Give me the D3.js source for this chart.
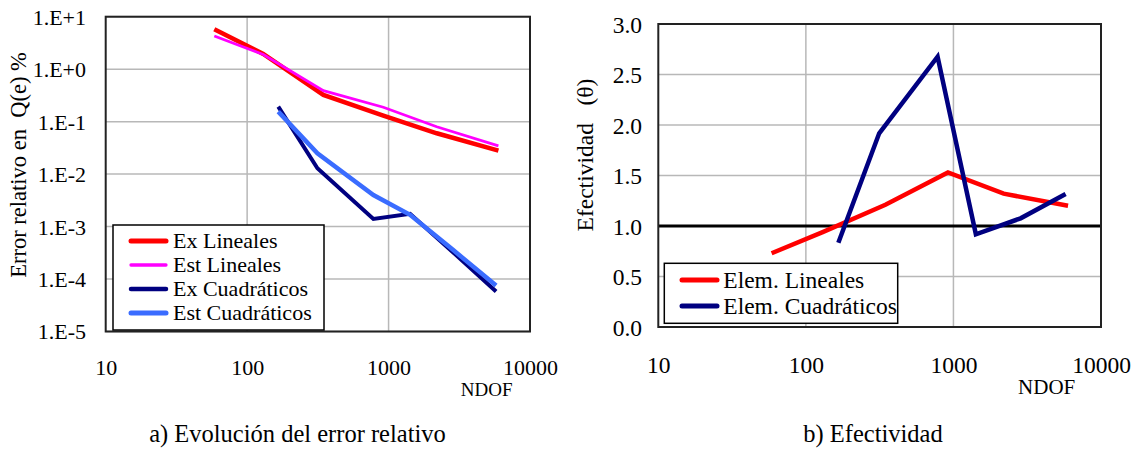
<!DOCTYPE html>
<html>
<head>
<meta charset="utf-8">
<script src="https://cdn.jsdelivr.net/npm/d3@7"></script>
<style>
  html, body { margin: 0; padding: 0; background: #fff; }
  svg { display: block; }
</style>
</head>
<body>
<svg id="chart" width="1139" height="451"></svg>
<script>
// ---------- data ----------
const xTickValues = [10, 100, 1000, 10000];
const xTickLabels = ["10", "100", "1000", "10000"];

const errTickValues = [10, 1, 0.1, 0.01, 0.001, 0.0001, 0.00001];
const errTickLabels = ["1.E+1", "1.E+0", "1.E-1", "1.E-2", "1.E-3", "1.E-4", "1.E-5"];

const effTickValues = [0, 0.5, 1, 1.5, 2, 2.5, 3];
const effTickLabels = ["0.0", "0.5", "1.0", "1.5", "2.0", "2.5", "3.0"];

const ndofLin  = [58.6, 130, 346, 918, 2190, 5980];
const ndofQuad = [166, 314, 781, 1419, 2852, 5757];

const exLineales  = [5.75, 1.95, 0.323, 0.13, 0.060, 0.028];
const estLineales = [4.28, 1.90, 0.39, 0.188, 0.080, 0.0345];
const exCuadraticos  = [0.193, 0.0129, 0.0014, 0.00175, 0.000325, 0.000058];
const estCuadraticos = [0.155, 0.025, 0.004, 0.00167, 0.00036, 0.000075];

const efLineales    = [0.73, 0.94, 1.21, 1.53, 1.32, 1.20];
const efCuadraticos = [0.835, 1.918, 2.676, 0.918, 1.076, 1.317];

const leftSeries = [
  { name: "Ex Lineales",     x: ndofLin,  y: exLineales,     color: "#ff0000", w: 4.5 },
  { name: "Est Lineales",    x: ndofLin,  y: estLineales,    color: "#ff00ff", w: 2.8 },
  { name: "Ex Cuadráticos",  x: ndofQuad, y: exCuadraticos,  color: "#000080", w: 4 },
  { name: "Est Cuadráticos", x: ndofQuad, y: estCuadraticos, color: "#3a6cff", w: 4.5 }
];
const rightSeries = [
  { name: "Elem. Lineales",    x: ndofLin,  y: efLineales,    color: "#ff0000", w: 4.5 },
  { name: "Elem. Cuadráticos", x: ndofQuad, y: efCuadraticos, color: "#000080", w: 4.5 }
];

// ---------- drawing ----------
const FONT = '"Liberation Serif", "Times New Roman", serif';
const svg = d3.select("#chart");
const gridColor = "#b8b8b8";
const frameColor = "#222";

function drawPanel(cfg) {
  const g = svg.append("g");
  const x = d3.scaleLog().domain([10, 10000]).range([cfg.left, cfg.right]);
  const y = cfg.yScale;

  // grid
  g.selectAll(".hg").data(cfg.yTicks).enter().append("line")
    .attr("x1", cfg.left).attr("x2", cfg.right)
    .attr("y1", d => y(d)).attr("y2", d => y(d))
    .attr("stroke", gridColor).attr("stroke-width", 1.5);
  g.selectAll(".vg").data([100, 1000]).enter().append("line")
    .attr("x1", d => x(d)).attr("x2", d => x(d))
    .attr("y1", cfg.top).attr("y2", cfg.bottom)
    .attr("stroke", gridColor).attr("stroke-width", 1.5);

  if (cfg.refLine !== undefined) {
    g.append("line")
      .attr("x1", cfg.left).attr("x2", cfg.right)
      .attr("y1", y(cfg.refLine)).attr("y2", y(cfg.refLine))
      .attr("stroke", "#000").attr("stroke-width", 3);
  }

  // frame
  g.append("rect")
    .attr("x", cfg.left).attr("y", cfg.top)
    .attr("width", cfg.right - cfg.left).attr("height", cfg.bottom - cfg.top)
    .attr("fill", "none").attr("stroke", frameColor).attr("stroke-width", 2);

  // y axis labels
  const yAxis = d3.axisLeft(y).tickValues(cfg.yTicks)
    .tickFormat((d, i) => cfg.yLabels[i]).tickSize(0).tickPadding(0);
  const ya = g.append("g").attr("transform", `translate(${cfg.yLabelX},0)`).call(yAxis);
  ya.select(".domain").remove();
  ya.selectAll("text").style("font-family", FONT)
    .style("font-size", cfg.tickFont + "px").attr("fill", "#000").attr("dy", "0.34em");

  // x axis labels
  const xAxis = d3.axisBottom(x).tickValues(xTickValues)
    .tickFormat((d, i) => xTickLabels[i]).tickSize(0).tickPadding(0);
  const xa = g.append("g").attr("transform", `translate(0,${cfg.xLabelY})`).call(xAxis);
  xa.select(".domain").remove();
  xa.selectAll("text").style("font-family", FONT)
    .style("font-size", cfg.tickFont + "px").attr("fill", "#000").attr("dy", "0.34em");

  // NDOF
  g.append("text").attr("x", cfg.ndofX).attr("y", cfg.ndofY)
    .attr("text-anchor", "middle").attr("dy", "0.34em")
    .style("font-family", FONT).style("font-size", cfg.ndofFont + "px").text("NDOF");

  // y title
  g.append("text")
    .attr("transform", `translate(${cfg.titleX},${cfg.titleY}) rotate(-90)`)
    .attr("text-anchor", "middle").attr("dy", "0.34em")
    .style("font-family", FONT).style("font-size", cfg.titleFont + "px")
    .style("white-space", "pre")
    .text(cfg.title);

  // series
  const line = d3.line().x(d => x(d[0])).y(d => y(d[1]));
  cfg.series.forEach(s => {
    g.append("path")
      .datum(s.x.map((v, i) => [v, s.y[i]]))
      .attr("d", line)
      .attr("fill", "none").attr("stroke", s.color)
      .attr("stroke-width", s.w).attr("stroke-linejoin", "miter")
      .attr("stroke-linecap", "butt");
  });

  // legend
  const L = cfg.legend;
  g.append("rect").attr("x", L.x).attr("y", L.y).attr("width", L.w).attr("height", L.h)
    .attr("fill", "#fff").attr("stroke", "#000").attr("stroke-width", 1.5);
  cfg.series.forEach((s, i) => {
    const yy = L.row0 + i * L.step;
    g.append("line").attr("x1", L.lx1).attr("x2", L.lx2).attr("y1", yy).attr("y2", yy)
      .attr("stroke", s.color).attr("stroke-width", s.w + 0.5).attr("stroke-linecap", "round");
    g.append("text").attr("x", L.tx).attr("y", yy).attr("dy", "0.34em")
      .style("font-family", FONT).style("font-size", L.font + "px").text(s.name);
  });

  // caption
  g.append("text").attr("x", cfg.capX).attr("y", 442).attr("text-anchor", "middle")
    .style("font-family", FONT).style("font-size", "24.5px").text(cfg.caption);
}

drawPanel({
  left: 105.7, right: 530, top: 16.7, bottom: 331.5,
  yScale: d3.scaleLog().domain([0.00001, 10]).range([331.5, 16.7]),
  yTicks: errTickValues, yLabels: errTickLabels,
  yLabelX: 86, xLabelY: 368, tickFont: 22,
  ndofX: 486.7, ndofY: 390, ndofFont: 19,
  title: "Error relativo en  Q(e) %", titleX: 18, titleY: 165, titleFont: 22.5,
  series: leftSeries,
  legend: { x: 113, y: 225, w: 211, h: 105, lx1: 131, lx2: 166, tx: 173, row0: 241, step: 24, font: 22 },
  caption: "a) Evolución del error relativo", capX: 297.5
});

drawPanel({
  left: 658.3, right: 1101, top: 24, bottom: 327,
  yScale: d3.scaleLinear().domain([0, 3]).range([327, 24]),
  yTicks: effTickValues, yLabels: effTickLabels,
  yLabelX: 642, xLabelY: 365, tickFont: 23.5,
  ndofX: 1046.7, ndofY: 386.5, ndofFont: 21,
  title: "Efectividad   (θ)", titleX: 585, titleY: 155, titleFont: 23.5,
  series: rightSeries, refLine: 1,
  legend: { x: 664.3, y: 263.3, w: 233.4, h: 60, lx1: 682, lx2: 717, tx: 723.3, row0: 280, step: 26, font: 23.5 },
  caption: "b) Efectividad", capX: 873
});
</script>
</body>
</html>
